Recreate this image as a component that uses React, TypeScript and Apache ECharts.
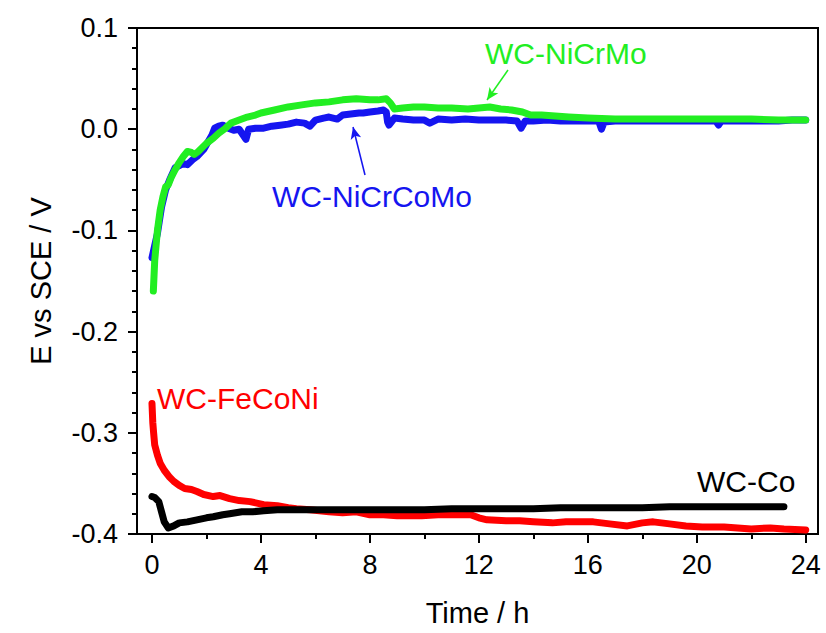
import React, { useEffect, useRef } from "react";
import * as echarts from "echarts";

const FONT = 'Arial, "Liberation Sans", sans-serif';

const xMajorTicks = [0, 4, 8, 12, 16, 20, 24];
const xMinorTicks = [2, 6, 10, 14, 18, 22];

const greenNiCrMo: [number, number][] = [
  [0.05, -0.16], [0.1, -0.13], [0.2, -0.1], [0.3, -0.08], [0.4, -0.067], [0.5, -0.057],
  [0.6, -0.055], [0.7, -0.048], [0.85, -0.04], [1.0, -0.033], [1.15, -0.027], [1.3, -0.022],
  [1.45, -0.023], [1.55, -0.025], [1.7, -0.022], [2.0, -0.014], [2.25, -0.009], [2.45, -0.004],
  [2.7, 0.001], [2.9, 0.006], [3.2, 0.009], [3.5, 0.012], [3.8, 0.014], [4.0, 0.016],
  [4.5, 0.019], [5.0, 0.022], [5.5, 0.024], [6.0, 0.026], [6.5, 0.027], [7.0, 0.029],
  [7.5, 0.03], [8.0, 0.029], [8.3, 0.029], [8.6, 0.03], [8.75, 0.026], [8.9, 0.02],
  [9.2, 0.021], [9.6, 0.022], [10.0, 0.022], [10.5, 0.021], [11.0, 0.021], [11.6, 0.02],
  [12.0, 0.021], [12.4, 0.022], [12.8, 0.02], [13.2, 0.019], [13.6, 0.017], [13.9, 0.014],
  [14.3, 0.014], [14.8, 0.013], [15.3, 0.012], [16.0, 0.011], [17.0, 0.01], [18.0, 0.01],
  [19.0, 0.01], [20.0, 0.01], [21.0, 0.01], [22.0, 0.01], [23.0, 0.009], [23.5, 0.009],
  [24.0, 0.009],
];

const blueNiCrCoMo: [number, number][] = [
  [0.0, -0.127], [0.1, -0.115], [0.2, -0.103], [0.35, -0.077], [0.5, -0.06], [0.65, -0.05],
  [0.85, -0.038], [1.0, -0.036], [1.15, -0.034], [1.3, -0.035], [1.5, -0.03], [1.65, -0.027],
  [1.9, -0.02], [2.05, -0.013], [2.2, -0.006], [2.3, 0.001], [2.45, 0.003], [2.6, 0.004],
  [2.8, 0.001], [3.0, -0.001], [3.2, 0.0], [3.35, -0.006], [3.45, -0.01], [3.55, 0.0],
  [3.8, 0.001], [4.1, 0.001], [4.4, 0.003], [4.7, 0.004], [5.0, 0.005], [5.3, 0.007],
  [5.6, 0.006], [5.8, 0.003], [6.0, 0.009], [6.3, 0.011], [6.5, 0.012], [6.8, 0.01],
  [7.0, 0.014], [7.3, 0.015], [7.6, 0.016], [7.75, 0.016], [8.0, 0.017], [8.3, 0.018],
  [8.5, 0.019], [8.6, 0.017], [8.65, 0.007], [8.7, 0.004], [8.9, 0.011], [9.2, 0.01],
  [9.6, 0.009], [10.0, 0.009], [10.2, 0.006], [10.5, 0.01], [11.0, 0.009], [11.5, 0.01],
  [12.0, 0.009], [12.5, 0.009], [13.0, 0.009], [13.4, 0.008], [13.55, 0.001], [13.7, 0.008],
  [14.0, 0.008], [14.5, 0.009], [15.0, 0.008], [15.5, 0.008], [16.0, 0.008], [16.4, 0.008],
  [16.5, 0.0], [16.6, 0.007], [17.0, 0.008], [18.0, 0.008], [19.0, 0.008], [20.0, 0.008],
  [20.7, 0.008], [20.8, 0.004], [20.9, 0.008], [21.5, 0.008], [22.0, 0.008], [22.5, 0.008],
  [23.0, 0.008], [23.5, 0.009], [24.0, 0.009],
];

const redFeCoNi: [number, number][] = [
  [0.0, -0.271], [0.03, -0.29], [0.06, -0.3], [0.1, -0.312], [0.2, -0.322], [0.3, -0.33],
  [0.45, -0.337], [0.65, -0.344], [0.8, -0.348], [1.0, -0.352], [1.2, -0.355], [1.45, -0.356],
  [1.65, -0.358], [1.9, -0.361], [2.25, -0.363], [2.5, -0.362], [2.85, -0.365], [3.2, -0.367],
  [3.6, -0.368], [4.1, -0.371], [4.6, -0.372], [5.0, -0.374], [5.3, -0.375], [5.8, -0.376],
  [6.5, -0.378], [7.0, -0.379], [7.5, -0.378], [8.0, -0.381], [8.5, -0.381], [9.0, -0.382],
  [9.9, -0.382], [10.5, -0.381], [11.0, -0.381], [11.7, -0.381], [12.0, -0.384], [12.3, -0.386],
  [13.0, -0.387], [13.5, -0.387], [14.0, -0.388], [14.7, -0.389], [15.2, -0.388], [16.2, -0.388],
  [16.8, -0.39], [17.45, -0.392], [18.0, -0.389], [18.4, -0.388], [19.0, -0.39], [19.6, -0.392],
  [20.2, -0.393], [21.0, -0.393], [21.5, -0.394], [22.0, -0.395], [22.7, -0.394], [23.2, -0.395],
  [24.0, -0.396],
];

const blackCo: [number, number][] = [
  [0.0, -0.363], [0.1, -0.364], [0.25, -0.368], [0.35, -0.378], [0.45, -0.388], [0.6, -0.394],
  [0.8, -0.392], [1.0, -0.389], [1.3, -0.388], [1.65, -0.386], [2.0, -0.384], [2.25, -0.383],
  [2.6, -0.381], [2.85, -0.38], [3.3, -0.378], [3.7, -0.378], [4.1, -0.377], [4.6, -0.376],
  [5.3, -0.376], [6.0, -0.376], [7.0, -0.376], [8.0, -0.376], [9.0, -0.376], [10.0, -0.376],
  [11.0, -0.375], [12.0, -0.375], [13.0, -0.375], [14.0, -0.375], [15.0, -0.374], [16.0, -0.374],
  [17.0, -0.374], [18.0, -0.374], [19.0, -0.373], [20.0, -0.373], [21.0, -0.373], [22.0, -0.373],
  [23.2, -0.373],
];

const GREEN = "#22ee22";
const BLUE = "#1515f0";
const RED = "#ff0000";
const BLACK = "#000000";

export default function App() {
  const ref = useRef<HTMLDivElement>(null);
  useEffect(() => {
    document.body.style.margin = "0";
    const chart = echarts.init(ref.current!, null, { renderer: "svg" });
    const lineSeries = (name: string, data: [number, number][], color: string, extra: any = {}) => ({
      type: "line",
      name,
      data,
      showSymbol: false,
      symbol: "none",
      smooth: false,
      lineStyle: { color, width: 7, cap: "round", join: "round" },
      z: 2,
      ...extra,
    });
    const option: any = {
      animation: false,
      grid: {
        left: 137, right: 8, top: 28, bottom: 99,
        show: true, borderColor: "#000", borderWidth: 2, backgroundColor: "transparent",
      },
      xAxis: [
        {
          type: "value", min: -0.55, max: 24.45,
          name: "Time / h", nameLocation: "middle", nameGap: 64,
          nameTextStyle: { fontFamily: FONT, fontSize: 29, color: "#000" },
          axisLine: { show: true, onZero: false, lineStyle: { color: "#000", width: 2 } },
          axisTick: { show: true, inside: false, length: 9, customValues: xMajorTicks, lineStyle: { color: "#000", width: 2 } },
          axisLabel: { show: true, customValues: xMajorTicks, margin: 17, fontFamily: FONT, fontSize: 27, color: "#000" },
          splitLine: { show: false },
        },
        {
          type: "value", min: -0.55, max: 24.45, position: "bottom", gridIndex: 0,
          axisLine: { show: false, onZero: false },
          axisTick: { show: true, inside: false, length: 5, customValues: xMinorTicks, lineStyle: { color: "#000", width: 2 } },
          axisLabel: { show: false },
          splitLine: { show: false },
        },
      ],
      yAxis: {
        type: "value", min: -0.4, max: 0.1, interval: 0.1,
        name: "E vs SCE / V", nameLocation: "middle", nameGap: 82, nameRotate: 90,
        nameTextStyle: { fontFamily: FONT, fontSize: 29, color: "#000" },
        axisLine: { show: true, onZero: false, lineStyle: { color: "#000", width: 2 } },
        axisTick: { show: true, inside: false, length: 9, lineStyle: { color: "#000", width: 2 } },
        minorTick: { show: true, splitNumber: 5, length: 5, lineStyle: { color: "#000", width: 2 } },
        axisLabel: {
          margin: 19, fontFamily: FONT, fontSize: 27, color: "#000",
          formatter: (v: number) => v.toFixed(1),
        },
        splitLine: { show: false },
      },
      series: [
        lineSeries("WC-FeCoNi", redFeCoNi, RED),
        lineSeries("WC-Co", blackCo, BLACK),
        lineSeries("WC-NiCrCoMo", blueNiCrCoMo, BLUE, {
          markLine: {
            silent: true, symbol: ["none", "arrow"], symbolSize: [8, 12],
            label: { show: false },
            lineStyle: { color: BLUE, width: 1.5, type: "solid" },
            data: [[{ coord: [7.82, -0.0453] }, { coord: [7.38, 0.0022] }]],
          },
        }),
        lineSeries("WC-NiCrMo", greenNiCrMo, GREEN, {
          markLine: {
            silent: true, symbol: ["none", "arrow"], symbolSize: [8, 12],
            label: { show: false },
            lineStyle: { color: GREEN, width: 1.5, type: "solid" },
            data: [[{ coord: [13.07, 0.0585] }, { coord: [12.3, 0.0289] }]],
          },
        }),
      ],
      graphic: [
        { type: "text", x: 485, y: 53, style: { text: "WC-NiCrMo", fill: GREEN, font: `30px ${FONT}`, textAlign: "left", textVerticalAlign: "middle" } },
        { type: "text", x: 272, y: 196, style: { text: "WC-NiCrCoMo", fill: BLUE, font: `30px ${FONT}`, textAlign: "left", textVerticalAlign: "middle" } },
        { type: "text", x: 157, y: 398, style: { text: "WC-FeCoNi", fill: RED, font: `30px ${FONT}`, textAlign: "left", textVerticalAlign: "middle" } },
        { type: "text", x: 697, y: 481, style: { text: "WC-Co", fill: BLACK, font: `30px ${FONT}`, textAlign: "left", textVerticalAlign: "middle" } },
      ],
    };
    chart.setOption(option);
    return () => chart.dispose();
  }, []);
  return <div ref={ref} style={{ width: 826, height: 633, background: "#fff" }} />;
}
